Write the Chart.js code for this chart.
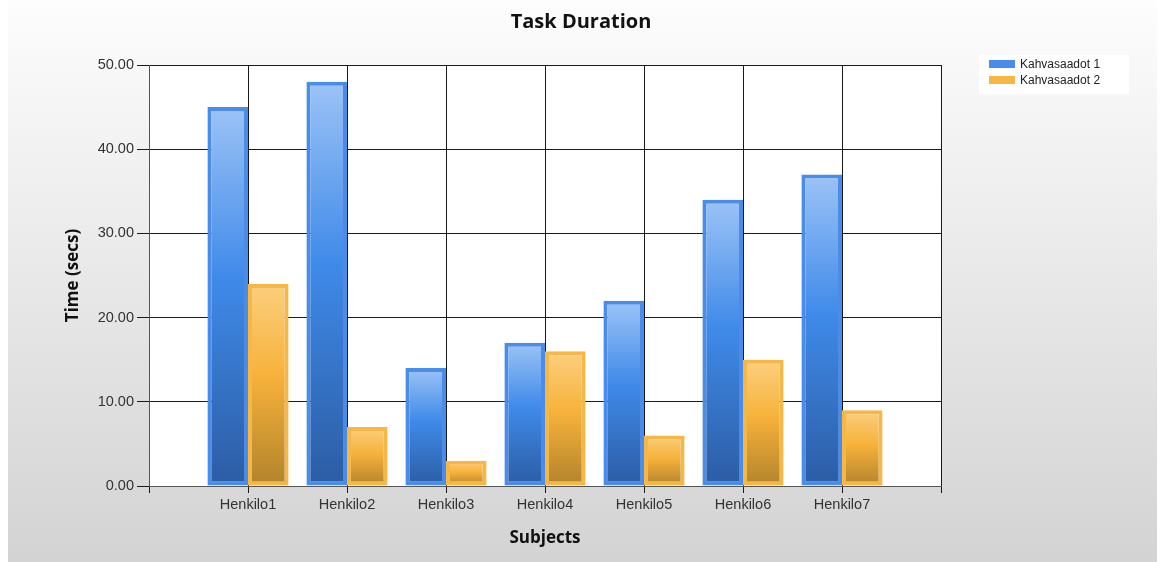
<!DOCTYPE html>
<html>
<head>
<meta charset="utf-8">
<title>Task Duration</title>
<script src="https://cdn.jsdelivr.net/npm/chart.js@4.4.1/dist/chart.umd.min.js"></script>
<style>
  html, body { margin: 0; padding: 0; background: #fff; }
  #wrap { width: 1162px; height: 562px; }
</style>
</head>
<body>
<div id="wrap"><canvas id="durationChart" width="1162" height="562"></canvas></div>
<script>
// data
const subjects = ['', 'Henkilo1', 'Henkilo2', 'Henkilo3', 'Henkilo4', 'Henkilo5', 'Henkilo6', 'Henkilo7', ''];
const series1 = [null, 45, 48, 14, 17, 22, 34, 37, null];
const series2 = [null, 24, 7, 3, 16, 6, 15, 9, null];
const seriesNames = ['Kahvasaadot 1', 'Kahvasaadot 2'];
const yTicks = [0, 10, 20, 30, 40, 50];

// gradient per bar, light at the top and dark at the base
const barGradient = (stops, fallback) => (ctx) => {
  const chart = ctx.chart;
  if (ctx.dataIndex === undefined || !chart.scales.y) return fallback;
  const v = ctx.dataset.data[ctx.dataIndex];
  if (v === null) return fallback;
  const top = chart.scales.y.getPixelForValue(v);
  const base = chart.scales.y.getPixelForValue(0);
  if (!isFinite(top) || !isFinite(base) || top === base) return fallback;
  const g = chart.ctx.createLinearGradient(0, top, 0, base);
  stops.forEach(s => g.addColorStop(s[0], s[1]));
  return g;
};

const blueStops = [[0, '#9cc3f6'], [0.45, '#3f8ae9'], [1, '#2c5ca3']];
const orangeStops = [[0, '#fbcf7e'], [0.45, '#f7b23b'], [1, '#b2832c']];

// page background and white plot area
const backdrop = {
  id: 'backdrop',
  beforeDraw(chart) {
    const c = chart.ctx, a = chart.chartArea;
    c.save();
    const g = c.createLinearGradient(0, 0, 0, chart.height);
    g.addColorStop(0, '#fdfdfd');
    g.addColorStop(1, '#d3d3d3');
    c.fillStyle = g;
    c.fillRect(8, 0, 1149, chart.height);
    c.fillStyle = '#ffffff';
    c.fillRect(a.left, a.top, a.right - a.left, a.bottom - a.top);
    c.restore();
  }
};

// legend box in the top right corner
const sideLegend = {
  id: 'sideLegend',
  afterDraw(chart) {
    const c = chart.ctx;
    c.save();
    c.fillStyle = '#ffffff';
    c.fillRect(979, 55, 150, 39);
    c.font = '12px "Liberation Sans", Arial, sans-serif';
    c.textBaseline = 'middle';
    chart.data.datasets.forEach((ds, i) => {
      const y = 64 + i * 16;
      c.fillStyle = ds.borderColor;
      c.fillRect(989, y - 4, 26, 8);
      c.fillStyle = '#222222';
      c.fillText(ds.label, 1020, y + 1);
    });
    c.restore();
  }
};

const titleFont = { family: '"Open Sans", "Noto Sans", sans-serif', size: 17, weight: 'bold' };

const durationChart = new Chart(document.getElementById('durationChart').getContext('2d'), {
  type: 'bar',
  data: {
    labels: subjects,
    datasets: [{
      label: seriesNames[0],
      data: series1,
      backgroundColor: barGradient(blueStops, '#3f8ae9'),
      borderColor: '#4a8ce9',
      borderWidth: 4,
      borderSkipped: false,
      categoryPercentage: 0.82,
      barPercentage: 1.0
    }, {
      label: seriesNames[1],
      data: series2,
      backgroundColor: barGradient(orangeStops, '#f7b23b'),
      borderColor: '#f6b746',
      borderWidth: 4,
      borderSkipped: false,
      categoryPercentage: 0.82,
      barPercentage: 1.0
    }]
  },
  options: {
    responsive: false,
    animation: false,
    layout: { padding: 0 },
    plugins: {
      legend: { display: false },
      tooltip: { enabled: false },
      title: {
        display: true,
        text: 'Task Duration',
        color: '#111111',
        font: { family: '"Open Sans", "Noto Sans", sans-serif', size: 20, weight: 'bold' },
        padding: { top: 10, bottom: 31 }
      }
    },
    scales: {
      x: {
        offset: false,
        grid: { offset: false, color: '#1a1a1a', lineWidth: 1, tickLength: 7, drawTicks: true },
        border: { color: '#555555', width: 1 },
        ticks: {
          color: '#333333',
          padding: 3,
          maxRotation: 0,
          autoSkip: false,
          font: { family: '"Liberation Sans", Arial, sans-serif', size: 14.5 }
        },
        title: {
          display: true,
          text: 'Subjects',
          color: '#111111',
          font: titleFont,
          padding: { top: 0, bottom: 14 }
        },
        afterFit(scale) { scale.height = 76; }
      },
      y: {
        min: 0,
        max: 50,
        afterBuildTicks(scale) { scale.ticks = yTicks.map(v => ({ value: v })); },
        grid: { color: '#1a1a1a', lineWidth: 1, tickLength: 12, drawTicks: true },
        border: { color: '#555555', width: 1 },
        ticks: {
          color: '#333333',
          padding: 3,
          font: { family: '"Liberation Sans", Arial, sans-serif', size: 14.5 },
          callback: (v) => Number(v).toFixed(2)
        },
        title: {
          display: true,
          text: 'Time (secs)',
          color: '#111111',
          font: titleFont,
          padding: { top: 63, bottom: 0 }
        },
        afterFit(scale) { scale.width = 149; }
      },
      // empty axis on the right that keeps room for the legend
      side: {
        position: 'right',
        display: true,
        grid: { display: false },
        border: { display: false },
        ticks: { display: false },
        afterFit(scale) { scale.width = 221; }
      }
    }
  },
  plugins: [backdrop, sideLegend]
});
</script>
</body>
</html>
